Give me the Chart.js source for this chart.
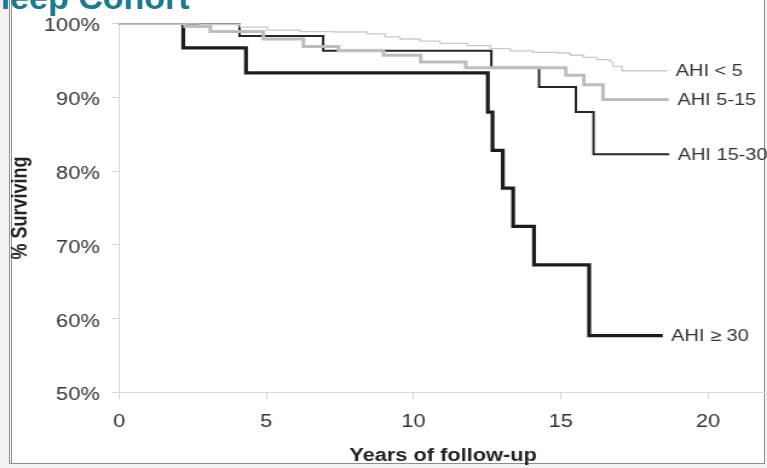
<!DOCTYPE html>
<html><head><meta charset="utf-8">
<script src="https://cdn.jsdelivr.net/npm/chart.js@4"></script>
<style>
html,body{margin:0;padding:0;}
body{width:767px;height:468px;position:relative;overflow:hidden;background:#f2f2f2;}
#frame{position:absolute;left:9px;top:-4px;width:756px;height:468px;border:1px solid #8c8c8c;border-left:3px double #8c8c8c;background:#fff;box-sizing:border-box;}
#title{position:absolute;left:-22px;top:-21px;font:bold 34px "Liberation Sans",Arial,sans-serif;line-height:36px;color:#1b7a90;white-space:nowrap;}
#c{position:absolute;left:0;top:0;transform-origin:0 0;transform:scaleX(1.2098);}
</style></head><body>
<div id="frame"></div>
<div id="title">Sleep Cohort</div>
<canvas id="c" width="634" height="468"></canvas>
<script>
// ---- data (years of follow-up, % surviving) ----
const seriesLabels = ['AHI < 5', 'AHI 5-15', 'AHI 15-30', 'AHI \u2265 30'];

const yearsLt5 = [0, 2.75, 4.11, 5.03, 6.15, 7.27, 8.42, 9.03, 9.54, 10.22, 10.90, 11.82, 12.60, 13.28, 14.06, 14.87, 15.31, 15.76, 16.23, 16.67, 16.77, 17.08, 18.61];
const survLt5  = [100, 99.86, 99.5, 99.1, 98.9, 98.85, 98.6, 98.2, 97.9, 97.6, 97.3, 97.0, 96.6, 96.3, 96.1, 96.0, 95.7, 95.4, 95.1, 94.8, 94.2, 93.6, 93.6];

const years5to15 = [0, 2.24, 3.10, 4.90, 6.26, 7.45, 8.98, 10.24, 11.77, 15.17, 15.78, 16.43, 18.67];
const surv5to15  = [100, 99.6, 98.9, 97.9, 96.9, 96.3, 95.7, 94.8, 94.0, 93.0, 91.7, 89.7, 89.7];

const years15to30 = [0, 4.09, 6.93, 12.64, 14.26, 15.51, 16.11, 18.68];
const surv15to30  = [100, 98.3, 96.3, 94.0, 91.4, 88.0, 82.3, 82.3];

const yearsGe30 = [0, 2.18, 4.31, 12.52, 12.68, 13.03, 13.38, 14.09, 15.96, 18.46];
const survGe30  = [100, 96.7, 93.3, 88.0, 82.8, 77.7, 72.5, 67.3, 57.7, 57.7];

const xTickValues = [0, 5, 10, 15, 20];
const yTickValues = [50, 60, 70, 80, 90, 100];

const toPts = (xs, ys) => xs.map((x, i) => ({x: x, y: ys[i]}));

const endLabels = {
  id: 'endLabels',
  afterDatasetsDraw(chart) {
    const ctx = chart.ctx;
    ctx.save();
    ctx.font = '16.5px "Liberation Sans", Arial, sans-serif';
    ctx.fillStyle = '#333';
    ctx.textBaseline = 'middle';
    ctx.textAlign = 'left';
    chart.data.datasets.forEach((ds, i) => {
      const meta = chart.getDatasetMeta(i);
      const pt = meta.data[meta.data.length - 1];
      ctx.fillText(ds.label, pt.x + 7, pt.y + 1);
    });
    ctx.restore();
  }
};

const font = '"Liberation Sans", Arial, sans-serif';

new Chart(document.getElementById('c'), {
  type: 'line',
  data: {
    datasets: [
      {label: seriesLabels[0], data: toPts(yearsLt5, survLt5), borderColor: '#cacaca', borderWidth: 1.3, stepped: true},
      {label: seriesLabels[1], data: toPts(years5to15, surv5to15), borderColor: '#bdbdbd', borderWidth: 3, stepped: true},
      {label: seriesLabels[2], data: toPts(years15to30, surv15to30), borderColor: '#272727', borderWidth: 2, stepped: true},
      {label: seriesLabels[3], data: toPts(yearsGe30, survGe30), borderColor: '#1c1c1c', borderWidth: 3.2, stepped: true}
    ]
  },
  options: {
    responsive: false,
    animation: false,
    layout: {padding: {left: 0, right: 0, top: 23.5, bottom: 0}},
    plugins: {legend: {display: false}, tooltip: {enabled: false}},
    elements: {point: {radius: 0}, line: {tension: 0, borderCapStyle: 'butt', borderJoinStyle: 'miter'}},
    scales: {
      x: {
        type: 'linear', min: 0, max: 22,
        afterBuildTicks: s => { s.ticks = xTickValues.map(v => ({value: v})); },
        afterFit: s => { s.height = 75.5; },
        ticks: {font: {family: font, size: 18}, color: '#333', padding: 12, maxRotation: 0, autoSkip: false},
        grid: {display: true, drawOnChartArea: false, drawTicks: true, tickLength: 7, color: '#d6d6d6'},
        border: {display: true, color: '#d9d9d9', width: 1},
        title: {display: true, text: 'Years of follow-up', font: {family: font, size: 18, weight: 'bold'}, color: '#222', padding: {top: 0, bottom: 1}}
      },
      y: {
        type: 'linear', min: 50, max: 100,
        afterBuildTicks: s => { s.ticks = yTickValues.map(v => ({value: v})); },
        afterFit: s => { s.width = 98.4; },
        ticks: {font: {family: font, size: 18}, color: '#333', padding: 10, labelOffset: 3, callback: v => v + '%'},
        grid: {display: true, drawOnChartArea: false, drawTicks: true, tickLength: 6, color: '#d6d6d6'},
        border: {display: true, color: '#d9d9d9', width: 1},
        title: {display: true, text: '% Surviving', font: {family: font, size: 18, weight: 'bold'}, color: '#222', padding: {top: 6, bottom: 0}}
      }
    }
  },
  plugins: [endLabels]
});
</script>
</body></html>
